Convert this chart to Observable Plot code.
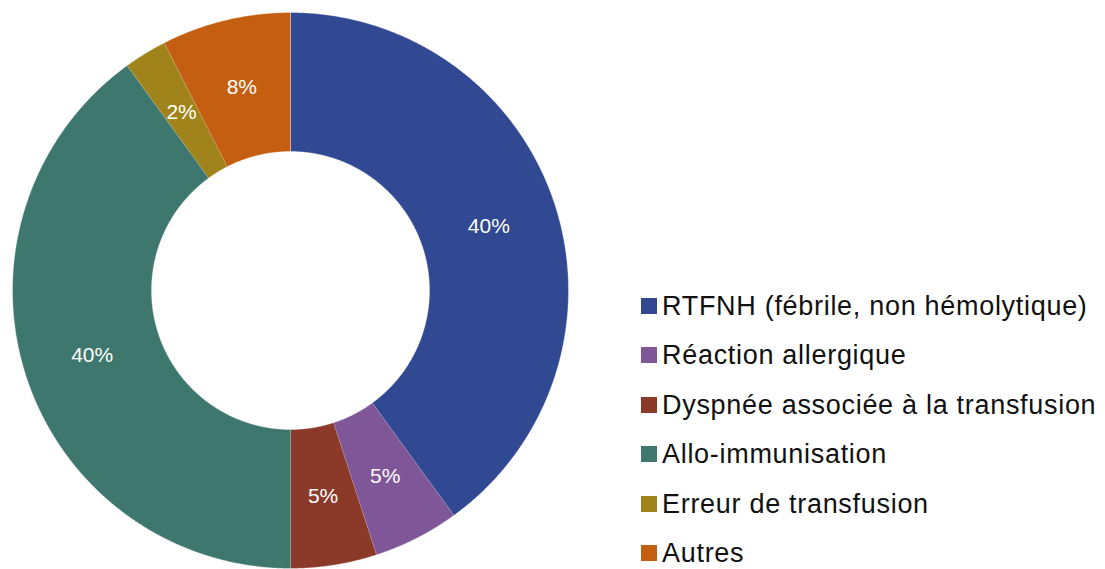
<!DOCTYPE html>
<html>
<head>
<meta charset="utf-8">
<script src="https://cdn.jsdelivr.net/npm/d3@7"></script>
<script src="https://cdn.jsdelivr.net/npm/@observablehq/plot@0.6"></script>
<style>
  html, body { margin: 0; padding: 0; background: #fff; }
  #wrap { position: relative; width: 1105px; height: 569px; overflow: hidden; }
  #legend { position: absolute; left: 641px; top: 293.5px; font-family: "Liberation Sans", Arial, sans-serif; font-size: 27px; letter-spacing: 0.7px; color: #111; }
  #legend .row { height: 24px; line-height: 24px; margin-bottom: 25.5px; white-space: nowrap; }
  #legend .row:last-child { margin-bottom: 0; }
  #legend .sw { display: inline-block; width: 16px; height: 16px; margin-right: 5px; vertical-align: 1px; }
</style>
</head>
<body>
<div id="wrap"></div>
<script>
const categories = [
  "RTFNH (fébrile, non hémolytique)",
  "Réaction allergique",
  "Dyspnée associée à la transfusion",
  "Allo-immunisation",
  "Erreur de transfusion",
  "Autres"
];
const counts = [16, 2, 2, 16, 1, 3];
const pctLabels = ["40%", "5%", "5%", "40%", "2%", "8%"];
const colors = ["#314893", "#7f5697", "#8b3a2a", "#3e776d", "#a0831a", "#c45f12"];

const outerR = 1, innerR = 0.5;
const arcs = d3.pie().sort(null)(counts);

// polygon vertices for each slice, in data space (radius units)
const slicePts = [];
arcs.forEach((a, i) => {
  const n = Math.max(4, Math.ceil((a.endAngle - a.startAngle) / (Math.PI / 720)));
  for (let k = 0; k <= n; k++) {
    const t = a.startAngle + (a.endAngle - a.startAngle) * k / n;
    slicePts.push({cat: categories[i], x: outerR * Math.sin(t), y: outerR * Math.cos(t)});
  }
  for (let k = n; k >= 0; k--) {
    const t = a.startAngle + (a.endAngle - a.startAngle) * k / n;
    slicePts.push({cat: categories[i], x: innerR * Math.sin(t), y: innerR * Math.cos(t)});
  }
});

const labelPts = arcs.map((a, i) => {
  const m = (a.startAngle + a.endAngle) / 2, r = (outerR + innerR) / 2;
  return {text: pctLabels[i], x: r * Math.sin(m), y: r * Math.cos(m)};
});

const chart = Plot.plot({
  width: 1105,
  height: 569,
  margin: 0,
  style: {background: "white", fontFamily: "Liberation Sans, Arial, sans-serif"},
  x: {domain: [-1, 1], range: [12, 568], axis: null},
  y: {domain: [-1, 1], range: [568, 12], axis: null},
  color: {domain: categories, range: colors},
  marks: [
    Plot.line(slicePts, {x: "x", y: "y", z: "cat", fill: "cat", stroke: "white", strokeWidth: 0.6, strokeOpacity: 0.6, curve: "linear"}),
    Plot.text(labelPts, {x: "x", y: "y", text: "text", fill: "white", fontSize: 21, fontFamily: "Liberation Sans, Arial, sans-serif"})
  ]
});

const wrap = document.getElementById("wrap");
wrap.appendChild(chart);

const legend = document.createElement("div");
legend.id = "legend";
categories.forEach((c, i) => {
  const row = document.createElement("div");
  row.className = "row";
  const sw = document.createElement("span");
  sw.className = "sw";
  sw.style.background = colors[i];
  row.appendChild(sw);
  row.appendChild(document.createTextNode(c));
  legend.appendChild(row);
});
wrap.appendChild(legend);
</script>
</body>
</html>
